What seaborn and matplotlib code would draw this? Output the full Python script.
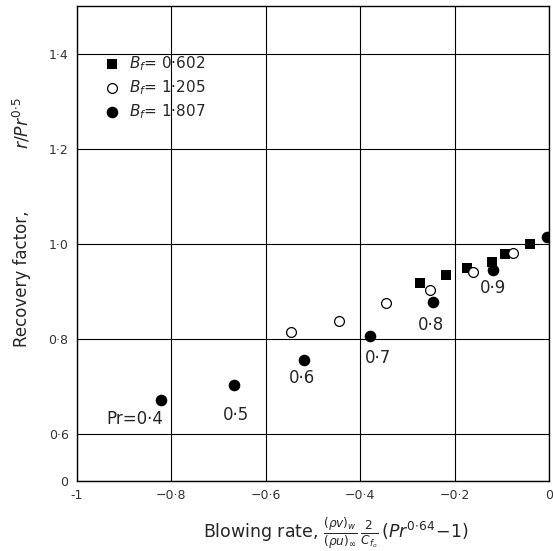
import numpy as np
import pandas as pd
import seaborn as sns
import matplotlib.pyplot as plt

# B_f = 0.602 (filled squares)
x_sq = [-0.273, -0.218, -0.174, -0.121, -0.093, -0.040]
y_sq = [0.917, 0.934, 0.949, 0.962, 0.977, 0.998]

# B_f = 1.205 (open circles)
x_open = [-0.547, -0.445, -0.345, -0.252, -0.161, -0.076]
y_open = [0.813, 0.836, 0.874, 0.902, 0.940, 0.981]

# B_f = 1.807 (filled circles), one per Prandtl number
x_fill = [-0.822, -0.667, -0.519, -0.379, -0.246, -0.119, -0.004]
y_fill = [0.670, 0.702, 0.755, 0.806, 0.877, 0.945, 1.013]

pr_labels = ["Pr=0·4", "0·5", "0·6", "0·7", "0·8", "0·9"]
pr_label_pos = [(-0.877, 0.630), (-0.663, 0.638), (-0.523, 0.717), (-0.362, 0.760), (-0.250, 0.828), (-0.119, 0.906)]

xticks = [-1, -0.8, -0.6, -0.4, -0.2, 0]
xticklabels = ["-1", "−0·8", "−0·6", "−0·4", "−0·2", "0"]
yticks = [0.5, 0.6, 0.8, 1.0, 1.2, 1.4]
yticklabels = ["0", "0·6", "0·8", "1·0", "1·2", "1·4"]

sns.set_style("white")
plt.rcParams['font.family'] = ['DejaVu Sans']
plt.rcParams['mathtext.fontset'] = 'dejavusans'

fig = plt.figure(figsize=(5.53, 5.51), dpi=100)
ax = fig.add_axes([0.139, 0.127, 0.854, 0.862])

sns.scatterplot(x=x_sq, y=y_sq, marker="s", s=60, color="black", edgecolor="black",
                linewidth=0, ax=ax, label=r"$B_f$= 0·602", zorder=3)
sns.scatterplot(x=x_open, y=y_open, marker="o", s=50, facecolor="white", edgecolor="black",
                linewidth=0.9, ax=ax, label=r"$B_f$= 1·205", zorder=4)
sns.scatterplot(x=x_fill, y=y_fill, marker="o", s=70, color="black", edgecolor="black",
                linewidth=0, ax=ax, label=r"$B_f$= 1·807", zorder=3)

for txt, (tx, ty) in zip(pr_labels, pr_label_pos):
    ax.text(tx, ty, txt, fontsize=12, ha="center", va="center")

ax.set_xlim(-1, 0)
ax.set_ylim(0.5, 1.5)
ax.set_xticks(xticks)
ax.set_xticklabels(xticklabels, fontsize=9, color="#333333")
ax.set_yticks(yticks)
ax.set_yticklabels(yticklabels, fontsize=9, color="#333333")
ax.tick_params(length=0, pad=6)
ax.grid(True, color="black", linewidth=0.8)
for sp in ax.spines.values():
    sp.set_color("black")
    sp.set_linewidth(1.0)

ax.set_xlabel(r"Blowing rate, $\frac{(\rho v)_w}{(\rho u)_\infty}\,\frac{2}{C_{f_o}}\,(Pr^{0{\cdot}64}\!-\!1)$",
              fontsize=12.5)
ax.xaxis.set_label_coords(0.549, -0.072)
fig.text(0.04, 0.494, "Recovery factor,", rotation=90, fontsize=12, ha="center", va="center")
fig.text(0.04, 0.777, r"$r/Pr^{0{\cdot}5}$", rotation=90, fontsize=12.5, ha="center", va="center")

leg = ax.legend(loc="upper left", bbox_to_anchor=(0.03, 0.912), frameon=False,
                handletextpad=0.1, labelspacing=0.35, borderaxespad=0, fontsize=11)

fig.savefig("out.png", dpi=100)
